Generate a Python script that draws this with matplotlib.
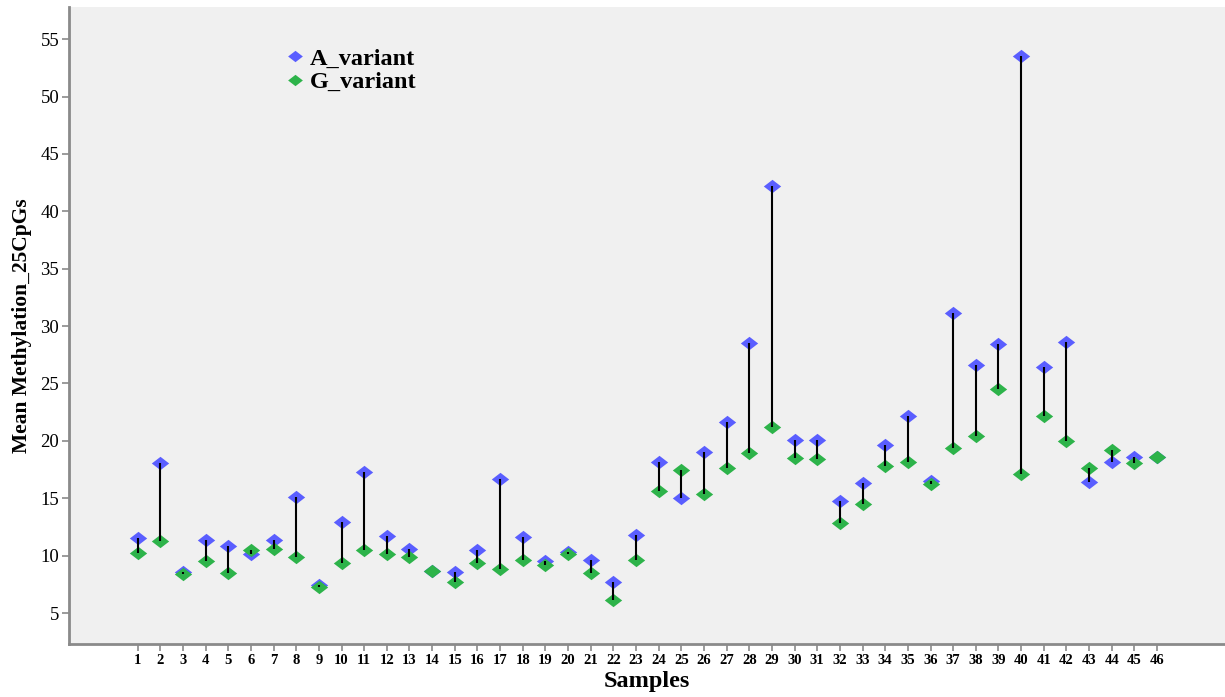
import matplotlib.pyplot as plt
import numpy as np
from matplotlib.path import Path

# mean methylation over 25 CpGs per sample, for each allele
samples = list(range(1, 47))
a_variant = [11.5, 18.1, 8.6, 11.4, 10.8, 10.1, 11.4, 15.1, 7.4, 12.9,
             17.3, 11.7, 10.6, 8.7, 8.6, 10.5, 16.7, 11.6, 9.5, 10.3,
             9.6, 7.7, 11.8, 18.2, 15.0, 19.0, 21.6, 28.5, 42.2, 20.1,
             20.1, 14.8, 16.3, 19.6, 22.2, 16.5, 31.1, 26.6, 28.4, 53.5,
             26.4, 28.6, 16.4, 18.2, 18.6, 18.6]
g_variant = [10.2, 11.3, 8.4, 9.5, 8.5, 10.5, 10.6, 9.9, 7.3, 9.4,
             10.5, 10.1, 9.9, 8.7, 7.7, 9.4, 8.8, 9.6, 9.2, 10.1,
             8.5, 6.1, 9.6, 15.6, 17.5, 15.4, 17.6, 18.9, 21.2, 18.5,
             18.4, 12.8, 14.5, 17.8, 18.2, 16.2, 19.4, 20.4, 24.5, 17.1,
             22.2, 20.0, 17.6, 19.2, 18.1, 18.6]
yticks = [5, 10, 15, 20, 25, 30, 35, 40, 45, 50, 55]

blue = '#5a5eff'
green = '#2db34a'
spine_col = '#8a8a8a'
serif = ['Liberation Serif', 'DejaVu Serif']

# flattened diamond like the SPSS marker
diamond = Path([(-1.3, 0), (0, 1), (1.3, 0), (0, -1), (-1.3, 0)],
               [Path.MOVETO, Path.LINETO, Path.LINETO, Path.LINETO, Path.CLOSEPOLY])

fig = plt.figure(figsize=(12.25, 6.97), dpi=100)
ax = fig.add_axes([69 / 1225, 53 / 697, 1 - 69 / 1225, 637 / 697])
ax.set_facecolor('#f0f0f0')

x = np.array(samples)
a = np.array(a_variant)
g = np.array(g_variant)

ax.plot(x, a, linestyle='none', marker=diamond, markersize=12.5,
        color=blue, markeredgewidth=0, label='A_variant', zorder=2)
ax.plot(x, g, linestyle='none', marker=diamond, markersize=12.5,
        color=green, markeredgewidth=0, label='G_variant', zorder=3)
ax.vlines(x, g, a, color='black', linewidth=1.5, zorder=4)

ax.set_xlim(-2.03, 49.0)
ax.set_ylim(2.3, 57.8)
ax.set_xticks(samples)
ax.set_xticklabels([str(s) for s in samples], family=serif,
                   fontweight='bold', fontsize=10.5)
ax.set_yticks(yticks)
ax.set_yticklabels([str(t) for t in yticks], family=serif, fontsize=13.5)
ax.tick_params(axis='both', direction='out', length=5, width=1.2,
               color=spine_col)
ax.tick_params(axis='x', pad=2)
ax.tick_params(axis='y', pad=2)

for side in ['top', 'right']:
    ax.spines[side].set_visible(False)
for side in ['left', 'bottom']:
    ax.spines[side].set_color(spine_col)
    ax.spines[side].set_linewidth(2)

ax.set_xlabel('Samples', family=serif, fontweight='bold', fontsize=17.5,
              labelpad=3)
ax.set_ylabel('Mean Methylation_25CpGs', family=serif, fontweight='bold',
              fontsize=15.5, labelpad=6)

ax.legend(loc='upper left', bbox_to_anchor=(0.165, 0.97), frameon=False,
          prop={'family': serif, 'weight': 'bold', 'size': 17.5},
          handletextpad=0.05, labelspacing=0.05, markerscale=0.85,
          handlelength=1.1)

fig.savefig('out.png', dpi=100)
